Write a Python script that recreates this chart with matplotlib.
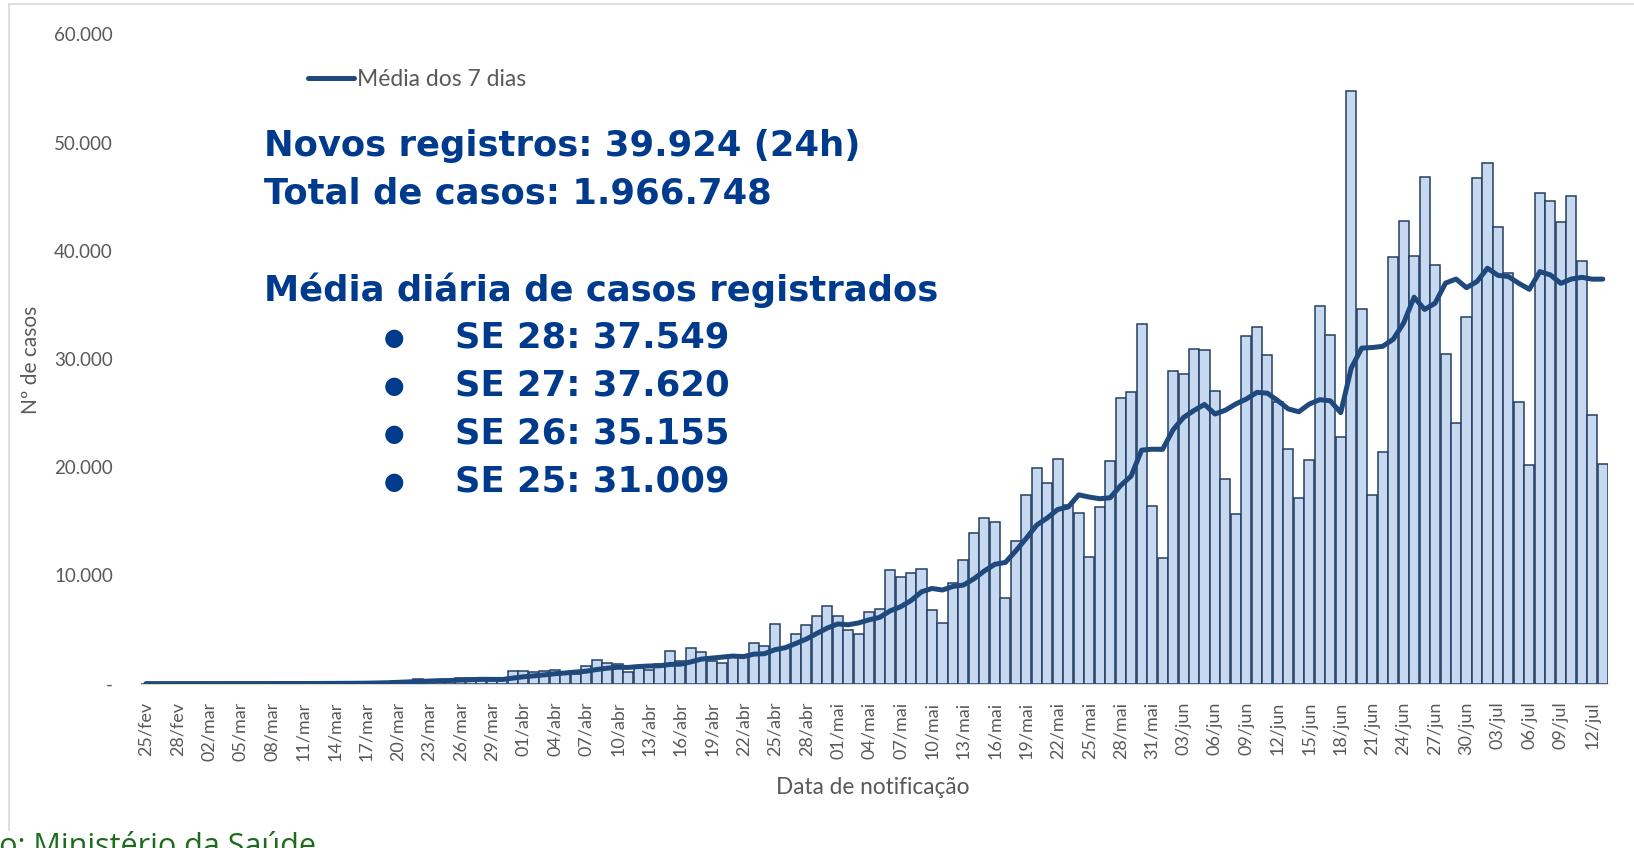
import matplotlib
matplotlib.use("Agg")
import matplotlib.pyplot as plt
import numpy as np
import pandas as pd
from matplotlib.ticker import FuncFormatter
from matplotlib.lines import Line2D

plt.rcParams['font.family'] = ['Lato', 'DejaVu Sans']

# casos novos por data de notificação (25/fev a 13/jul)
casos_fev = [0, 1, 0, 0, 1]
casos_mar = [0, 0, 0, 1, 5, 5, 6, 6, 0, 9, 18, 25, 21, 23, 79, 34, 57, 137, 193, 283,
             224, 418, 345, 310, 232, 482, 502, 487, 352, 323, 1138]
casos_abr = [1119, 1074, 1146, 1222, 852, 926, 1661, 2210, 1930, 1781, 1089, 1442, 1261,
             1832, 3058, 2105, 3257, 2917, 2055, 1927, 2498, 2678, 3735, 3503, 5514, 3379,
             4613, 5385, 6276, 7218]
casos_mai = [6209, 4970, 4588, 6633, 6935, 10503, 9888, 10222, 10611, 6760, 5632, 9258,
             11385, 13944, 15305, 14919, 7938, 13140, 17408, 19951, 18508, 20803, 16508,
             15813, 11687, 16324, 20599, 26417, 26928, 33274, 16409]
casos_jun = [11598, 28936, 28633, 30925, 30830, 27075, 18912, 15654, 32091, 32913, 30412,
             25982, 21704, 17110, 20647, 34918, 32188, 22765, 54771, 34666, 17459, 21432,
             39436, 42725, 39483, 46860, 38693, 30476, 24052, 33846]
casos_jul = [46712, 48105, 42223, 37923, 26051, 20229, 45305, 44571, 42619, 45048, 39023,
             24831, 20286]

# média móvel de 7 dias
media_fev = [0, 0, 0, 0, 0]
media_mar = [0, 0, 0.3, 0.3, 1, 1.7, 2.4, 3.3, 3.3, 4.6, 7, 9.9, 12.1, 14.6, 25, 29.9,
             36.7, 53.7, 77.7, 115, 144, 192, 237, 273, 286, 328, 359, 397, 387, 384, 502]
media_abr = [629, 714, 806, 911, 982, 1068, 1143, 1299, 1421, 1512, 1493, 1577, 1625, 1649,
             1770, 1795, 2006, 2267, 2355, 2450, 2545, 2491, 2724, 2759, 3130, 3319, 3703,
             4115, 4629, 5127]
media_mai = [5513, 5436, 5608, 5897, 6118, 6722, 7104, 7677, 8483, 8793, 8650, 8982, 9108,
             9687, 10414, 11029, 11197, 12270, 13434, 14658, 15310, 16095, 16322, 17447,
             17240, 17085, 17177, 18307, 19182, 21577, 21663]
media_jun = [21650, 23452, 24599, 25243, 25801, 24915, 25273, 25852, 26303, 26914, 26841,
             26148, 25381, 25124, 25837, 26241, 26137, 25045, 29158, 31009, 31059, 31171,
             31817, 33322, 35710, 34580, 35155, 37015, 37389, 36591]
media_jul = [37160, 38392, 37730, 37620, 36987, 36441, 38078, 37772, 36989, 37392, 37549,
             37375, 37383]

meses = {2: 'fev', 3: 'mar', 4: 'abr', 5: 'mai', 6: 'jun', 7: 'jul'}
yticks = [0, 10000, 20000, 30000, 40000, 50000, 60000]

casos = np.array(casos_fev + casos_mar + casos_abr + casos_mai + casos_jun + casos_jul)
media = np.array(media_fev + media_mar + media_abr + media_mai + media_jun + media_jul)
datas = pd.date_range('2020-02-25', periods=len(casos), freq='D')
rotulos = [f"{d.day:02d}/{meses[d.month]}" for d in datas]
x = np.arange(len(casos))

W, H = 1634, 848
fig = plt.figure(figsize=(W / 100, H / 100), dpi=100)
fig.patch.set_facecolor('white')


def fx(px):
    return px / W


def fy(py):
    return 1 - py / H


ax = fig.add_axes([fx(140.7), fy(683.6), fx(1608) - fx(140.7), fy(34.4) - fy(683.6)])

ax.bar(x, casos, width=0.96, color='#C6D9F1', edgecolor='#243F60', linewidth=1.1, zorder=2)
ax.plot(x, media, color='#1F497D', linewidth=3.6, solid_capstyle='round', zorder=3,
        label='Média dos 7 dias')

ax.set_xlim(-0.5, len(casos) - 0.5)
ax.set_ylim(0, 60000)
ax.set_yticks(yticks)
ax.yaxis.set_major_formatter(FuncFormatter(
    lambda v, p: '-' if v == 0 else f"{int(v):,}".replace(',', '.')))
ax.set_xticks(x[::3])
ax.set_xticklabels(rotulos[::3], rotation=90)

for s in ['top', 'right', 'left']:
    ax.spines[s].set_visible(False)
ax.spines['bottom'].set_color('#D9D9D9')
ax.tick_params(axis='both', length=0, colors='#595959')
ax.tick_params(axis='y', labelsize=13.5, pad=20)
ax.tick_params(axis='x', labelsize=13, pad=13)
ax.set_facecolor('white')

# legenda
ax.legend(loc='center left', bbox_to_anchor=(fx(308), fy(80)), bbox_transform=fig.transFigure,
          frameon=False, fontsize=16.5, handlelength=2.0, handletextpad=0.15,
          borderpad=0, borderaxespad=0, labelcolor='#595959')

fig.text(fx(31), fy(360), 'Nº de casos', rotation=90, ha='center', va='center',
         fontsize=15, color='#595959')
fig.text(fx(873), fy(787), 'Data de notificação', ha='center', va='center',
         fontsize=16.3, color='#595959')

azul = '#003A8C'
big = dict(color=azul, fontsize=25.5, fontweight='bold', family='DejaVu Sans', va='center')
fig.text(fx(264), fy(146), 'Novos registros: 39.924 (24h)', **big)
fig.text(fx(264), fy(194), 'Total de casos: 1.966.748', **big)
fig.text(fx(264), fy(290), 'Média diária de casos registrados', **big)
se_linhas = ['SE 28: 37.549', 'SE 27: 37.620', 'SE 26: 35.155', 'SE 25: 31.009']
for i, t in enumerate(se_linhas):
    yy = 337.5 + 48 * i
    fig.text(fx(394), fy(yy), '●', color=azul, fontsize=17, family='DejaVu Sans',
             ha='center', va='center')
    fig.text(fx(455), fy(yy), t, **big)

# moldura e fonte
fig.add_artist(Line2D([fx(9), fx(9)], [fy(4), fy(830)], color='#D9D9D9', lw=1.2))
fig.add_artist(Line2D([fx(9), 1], [fy(4), fy(4)], color='#D9D9D9', lw=1.2))
fig.text(fx(316), fy(847), 'Elaboração: Ministério da Saúde', ha='right', va='center',
         fontsize=22, color='#1E6B1E', family='Open Sans')

fig.savefig('out.png', dpi=100, facecolor='white')
